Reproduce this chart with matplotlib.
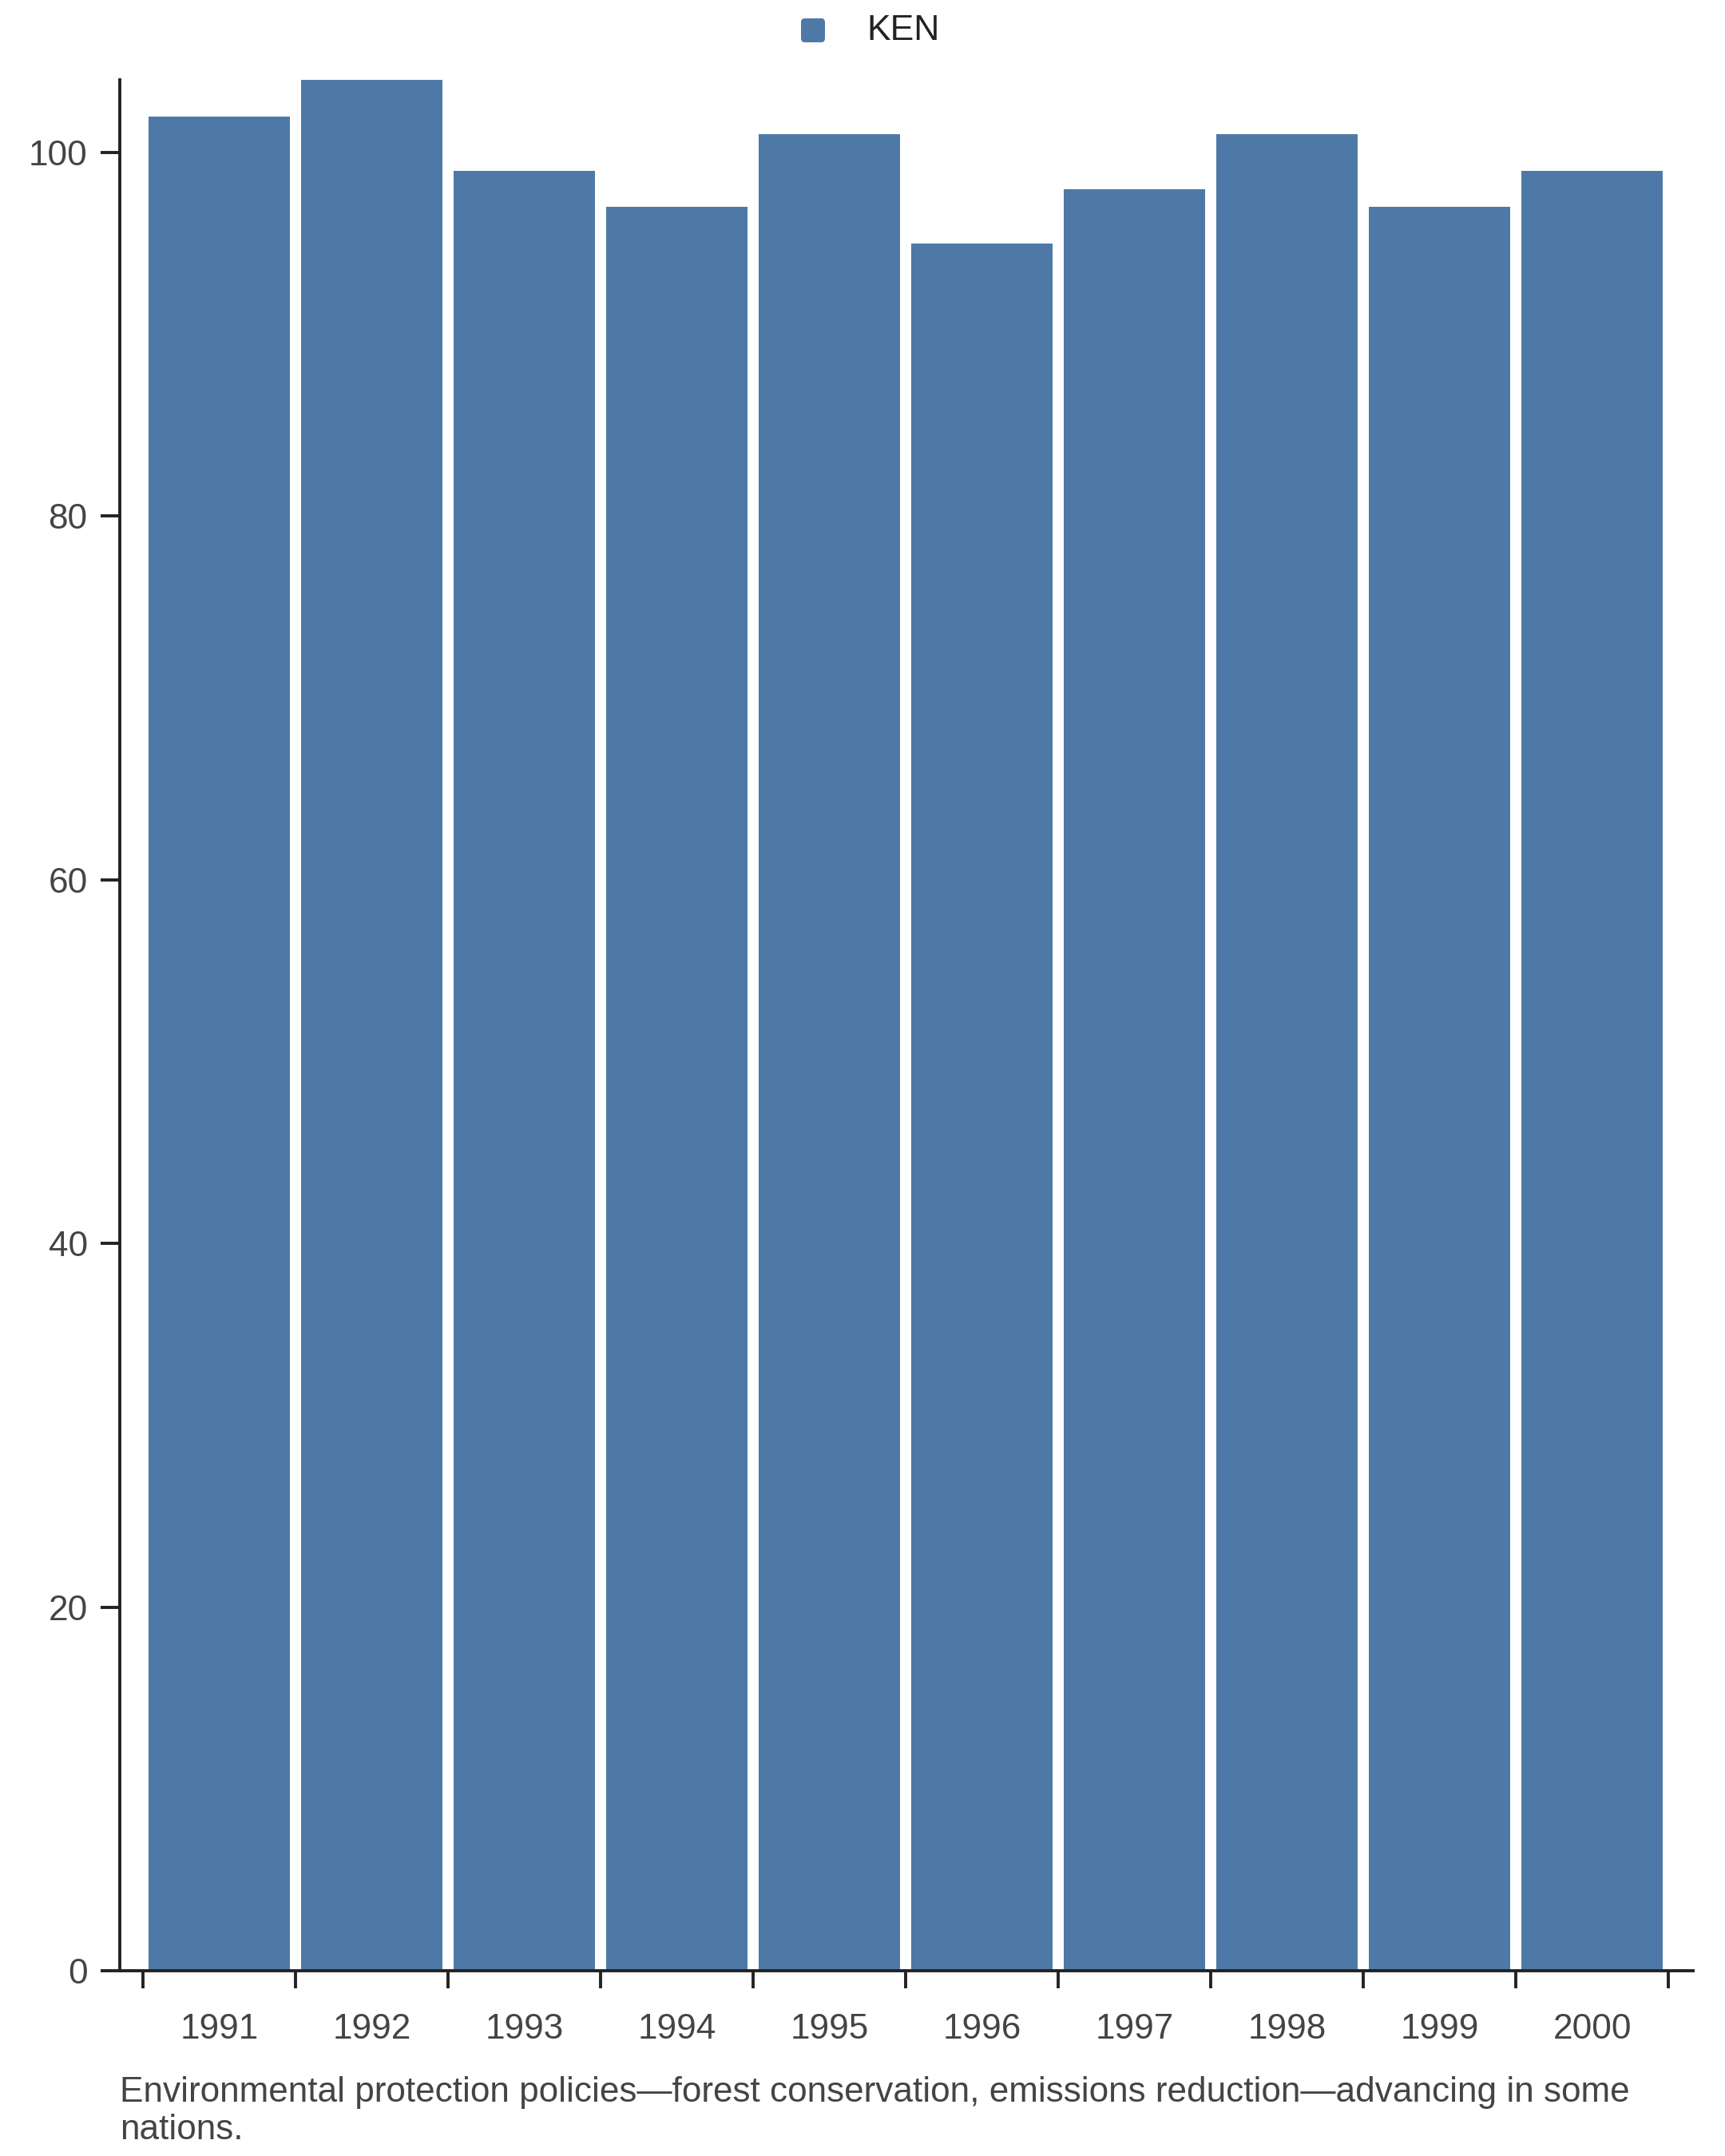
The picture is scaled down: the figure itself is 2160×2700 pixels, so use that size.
import numpy as np
import matplotlib.pyplot as plt
from matplotlib.patches import FancyBboxPatch

years = ['1991', '1992', '1993', '1994', '1995', '1996', '1997', '1998', '1999', '2000']
ken = [102, 104, 99, 97, 101, 95, 98, 101, 97, 99]
caption = ('Environmental protection policies\u2014forest conservation, emissions reduction\u2014advancing in some\n'
           'nations.')

plt.rcParams['font.family'] = ['Liberation Sans', 'DejaVu Sans']

fig = plt.figure(figsize=(10.8, 13.5), dpi=200)
ax = fig.add_axes([150/2160, 1-2468/2700, (2120-150)/2160, (2468-100)/2700])

x = np.arange(len(years))
ax.bar(x, ken, width=0.93, color='#4e79a7', zorder=2)

ax.set_xlim(-0.652, 9.662)
ax.set_ylim(0, 104)

for s in ['top', 'right']:
    ax.spines[s].set_visible(False)
for s in ['left', 'bottom']:
    ax.spines[s].set_linewidth(1.4)
    ax.spines[s].set_color('#222222')

ax.set_yticks([0, 20, 40, 60, 80, 100])
ax.tick_params(axis='y', length=8.5, width=1.4, color='#222222', pad=6,
               labelsize=15.9, labelcolor='#444444')

# labels at band centres, tick marks at band edges
ax.set_xticks(x)
ax.set_xticklabels(years)
ax.tick_params(axis='x', which='major', length=0, pad=19, labelsize=15.9, labelcolor='#444444')
ax.set_xticks(np.arange(len(years) + 1) - 0.5, minor=True)
ax.tick_params(axis='x', which='minor', length=8, width=1.4, color='#222222')

# legend on top
box = FancyBboxPatch((1003/2160, 1-53/2700), 30/2160, 30/2700,
                     boxstyle='round,pad=0,rounding_size=0.002',
                     transform=fig.transFigure, facecolor='#4e79a7', edgecolor='none')
fig.patches.append(box)
fig.text(1085/2160, 1-38/2700, 'KEN', ha='left', va='center', fontsize=16, color='#222222')

fig.text(150/2160, 1-2600/2700, caption, ha='left', va='top', fontsize=15.9,
         color='#444444', linespacing=1.2)

fig.savefig('out.png', dpi=200)
